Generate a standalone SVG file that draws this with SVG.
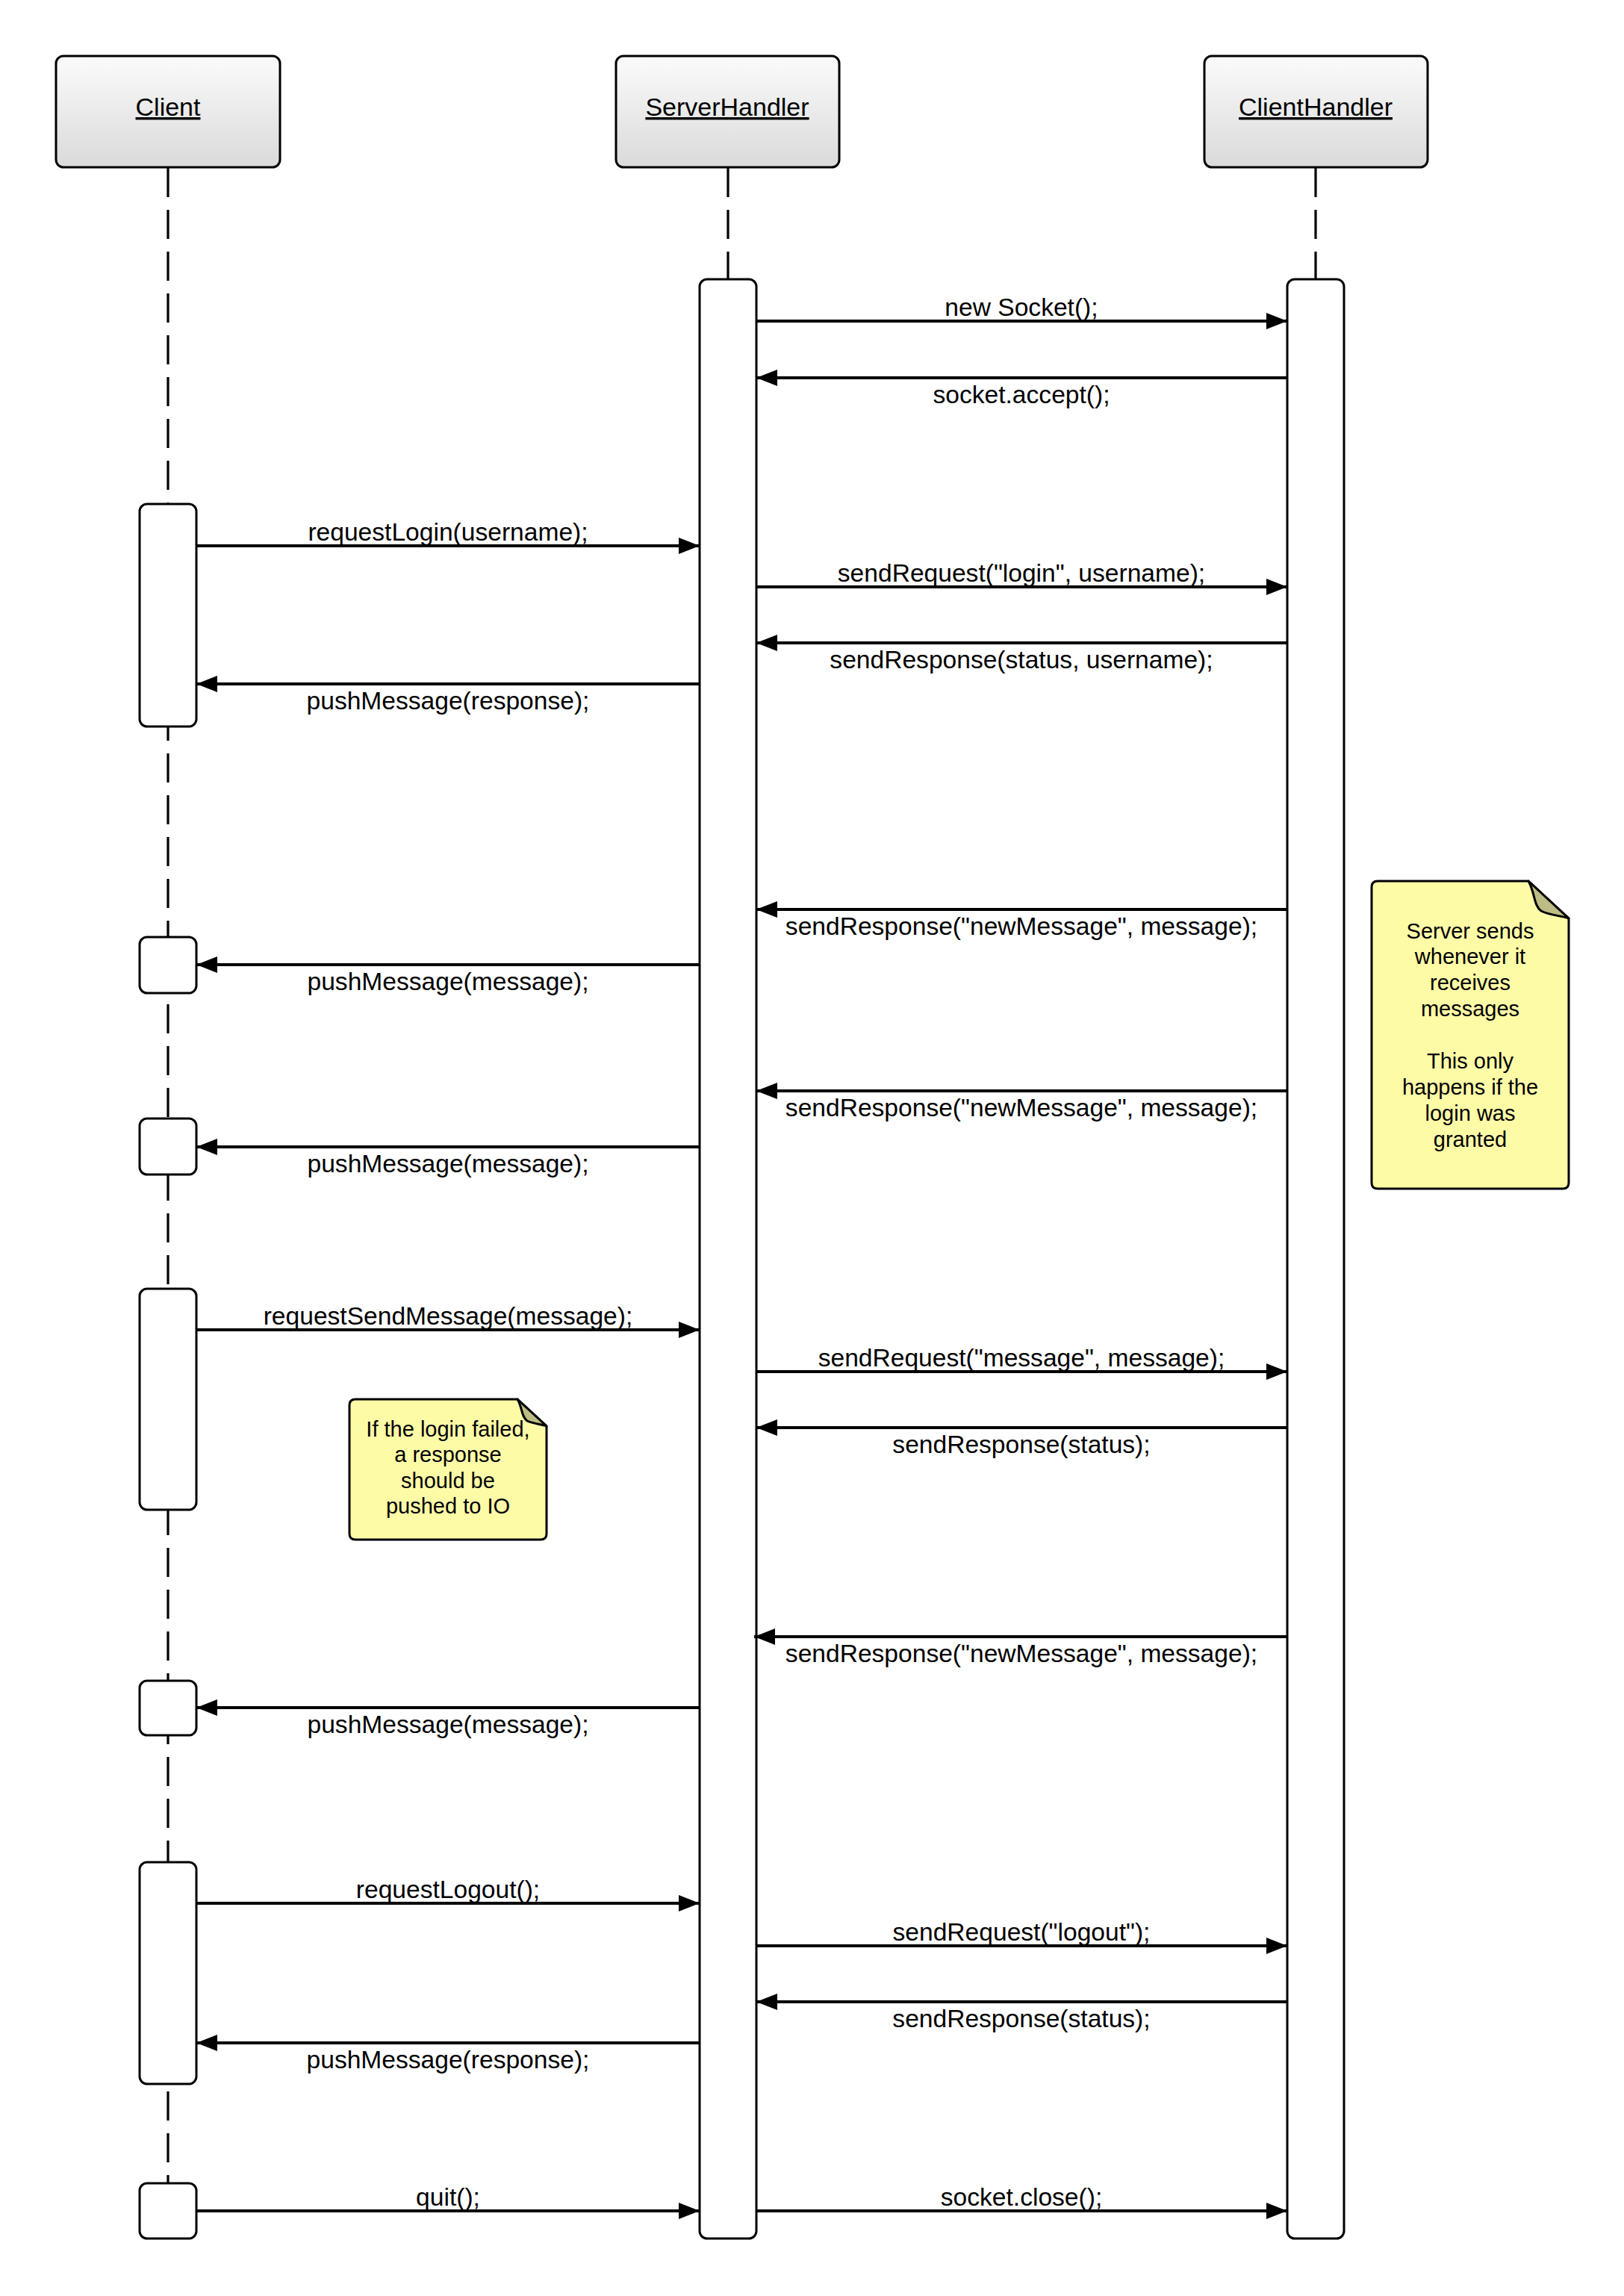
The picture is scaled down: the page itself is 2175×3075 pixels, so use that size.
<svg xmlns="http://www.w3.org/2000/svg" width="2175" height="3075" viewBox="0 0 2175 3075">
<defs>
<linearGradient id="hg" x1="0" y1="0" x2="0" y2="1"><stop offset="0" stop-color="#fbfbfb"/><stop offset="1" stop-color="#dadada"/></linearGradient>
<marker id="ah" markerUnits="userSpaceOnUse" markerWidth="28" markerHeight="22" refX="28" refY="11" orient="auto"><path d="M0,0 L28,11 L0,22 Z" fill="#000"/></marker>
</defs>
<style>
.hdr{fill:url(#hg);stroke:#000;stroke-width:3}
.hl{font-family:"Liberation Sans",Arial,sans-serif;font-size:34px;text-anchor:middle;text-decoration:underline;fill:#000}
.life{stroke:#000;stroke-width:3.2;stroke-dasharray:39 17;fill:none}
.act{fill:#fff;stroke:#000;stroke-width:3}
.msg{stroke:#000;stroke-width:4;fill:none;marker-end:url(#ah)}
.lbl{font-family:"Liberation Sans",Arial,sans-serif;font-size:33.6px;text-anchor:middle;fill:#000}
.note{fill:#fefba7;stroke:#000;stroke-width:3}
.fold{fill:#bdbc85;stroke:#000;stroke-width:3;stroke-linejoin:round}
.nt{font-family:"Liberation Sans",Arial,sans-serif;font-size:29px;text-anchor:middle;fill:#000}
</style>
<rect width="2175" height="3075" fill="#fff"/>

<g id="lifelines">
<line class="life" x1="225" y1="225" x2="225" y2="2924"/>
<line class="life" x1="975" y1="225" x2="975" y2="374"/>
<line class="life" x1="1762" y1="225" x2="1762" y2="374"/>
</g>

<g id="node-client">
<rect class="hdr" x="75" y="75" width="300" height="149" rx="10"/>
<text class="hl" x="225" y="155">Client</text>
</g>
<g id="node-serverhandler">
<rect class="hdr" x="825" y="75" width="299" height="149" rx="10"/>
<text class="hl" x="974" y="155">ServerHandler</text>
</g>
<g id="node-clienthandler">
<rect class="hdr" x="1613" y="75" width="299" height="149" rx="10"/>
<text class="hl" x="1762" y="155">ClientHandler</text>
</g>

<g id="activations">
<rect id="act-server" class="act" x="937" y="374" width="76" height="2624" rx="10"/>
<rect id="act-clienthandler" class="act" x="1724" y="374" width="76" height="2624" rx="10"/>
<rect id="act-client-1" class="act" x="187" y="675" width="76" height="298" rx="10"/>
<rect id="act-client-2" class="act" x="187" y="1255" width="76" height="75" rx="10"/>
<rect id="act-client-3" class="act" x="187" y="1498" width="76" height="75" rx="10"/>
<rect id="act-client-4" class="act" x="187" y="1726" width="76" height="296" rx="10"/>
<rect id="act-client-5" class="act" x="187" y="2251" width="76" height="73" rx="10"/>
<rect id="act-client-6" class="act" x="187" y="2494" width="76" height="297" rx="10"/>
<rect id="act-client-7" class="act" x="187" y="2924" width="76" height="74" rx="10"/>
</g>

<g id="connectors">
<line class="msg" x1="1013" y1="430" x2="1724" y2="430"/>
<text class="lbl" x="1368" y="423">new Socket();</text>
<line class="msg" x1="1724" y1="506" x2="1013" y2="506"/>
<text class="lbl" x="1368" y="540">socket.accept();</text>

<line class="msg" x1="263" y1="731" x2="937" y2="731"/>
<text class="lbl" x="600" y="724">requestLogin(username);</text>
<line class="msg" x1="1013" y1="786" x2="1724" y2="786"/>
<text class="lbl" x="1368" y="779">sendRequest("login", username);</text>
<line class="msg" x1="1724" y1="861" x2="1013" y2="861"/>
<text class="lbl" x="1368" y="895">sendResponse(status, username);</text>
<line class="msg" x1="937" y1="916" x2="263" y2="916"/>
<text class="lbl" x="600" y="950">pushMessage(response);</text>

<line class="msg" x1="1724" y1="1218" x2="1013" y2="1218"/>
<text class="lbl" x="1368" y="1252">sendResponse("newMessage", message);</text>
<line class="msg" x1="937" y1="1292" x2="263" y2="1292"/>
<text class="lbl" x="600" y="1326">pushMessage(message);</text>

<line class="msg" x1="1724" y1="1461" x2="1013" y2="1461"/>
<text class="lbl" x="1368" y="1495">sendResponse("newMessage", message);</text>
<line class="msg" x1="937" y1="1536" x2="263" y2="1536"/>
<text class="lbl" x="600" y="1570">pushMessage(message);</text>

<line class="msg" x1="263" y1="1781" x2="937" y2="1781"/>
<text class="lbl" x="600" y="1774">requestSendMessage(message);</text>
<line class="msg" x1="1013" y1="1837" x2="1724" y2="1837"/>
<text class="lbl" x="1368" y="1830">sendRequest("message", message);</text>
<line class="msg" x1="1724" y1="1912" x2="1013" y2="1912"/>
<text class="lbl" x="1368" y="1946">sendResponse(status);</text>

<line class="msg" x1="1724" y1="2192" x2="1010" y2="2192"/>
<text class="lbl" x="1368" y="2226">sendResponse("newMessage", message);</text>
<line class="msg" x1="937" y1="2287" x2="263" y2="2287"/>
<text class="lbl" x="600" y="2321">pushMessage(message);</text>

<line class="msg" x1="263" y1="2549" x2="937" y2="2549"/>
<text class="lbl" x="600" y="2542">requestLogout();</text>
<line class="msg" x1="1013" y1="2606" x2="1724" y2="2606"/>
<text class="lbl" x="1368" y="2599">sendRequest("logout");</text>
<line class="msg" x1="1724" y1="2681" x2="1013" y2="2681"/>
<text class="lbl" x="1368" y="2715">sendResponse(status);</text>
<line class="msg" x1="937" y1="2736" x2="263" y2="2736"/>
<text class="lbl" x="600" y="2770">pushMessage(response);</text>

<line class="msg" x1="263" y1="2961" x2="937" y2="2961"/>
<text class="lbl" x="600" y="2954">quit();</text>
<line class="msg" x1="1013" y1="2961" x2="1724" y2="2961"/>
<text class="lbl" x="1368" y="2954">socket.close();</text>
</g>

<g id="note-server-sends">
<path class="note" d="M1845,1180 H2047 L2101,1230 V1584 Q2101,1592 2093,1592 H1845 Q1837,1592 1837,1584 V1188 Q1837,1180 1845,1180 Z"/>
<path class="fold" d="M2047,1180 C2056,1196 2054,1213 2064,1220 C2076,1226 2090,1226 2101,1230 Z"/>
<text class="nt" x="1969" y="1257">Server sends</text>
<text class="nt" x="1969" y="1291">whenever it</text>
<text class="nt" x="1969" y="1326">receives</text>
<text class="nt" x="1969" y="1361">messages</text>
<text class="nt" x="1969" y="1431">This only</text>
<text class="nt" x="1969" y="1466">happens if the</text>
<text class="nt" x="1969" y="1501">login was</text>
<text class="nt" x="1969" y="1536">granted</text>
</g>

<g id="note-login-failed">
<path class="note" d="M476,1874 H693 L732,1910 V2054 Q732,2062 724,2062 H476 Q468,2062 468,2054 V1882 Q468,1874 476,1874 Z"/>
<path class="fold" d="M693,1874 C700,1886 698,1897 706,1903 C715,1907 724,1907 732,1910 Z"/>
<text class="nt" x="600" y="1924">If the login failed,</text>
<text class="nt" x="600" y="1958">a response</text>
<text class="nt" x="600" y="1993">should be</text>
<text class="nt" x="600" y="2027">pushed to IO</text>
</g>
</svg>
